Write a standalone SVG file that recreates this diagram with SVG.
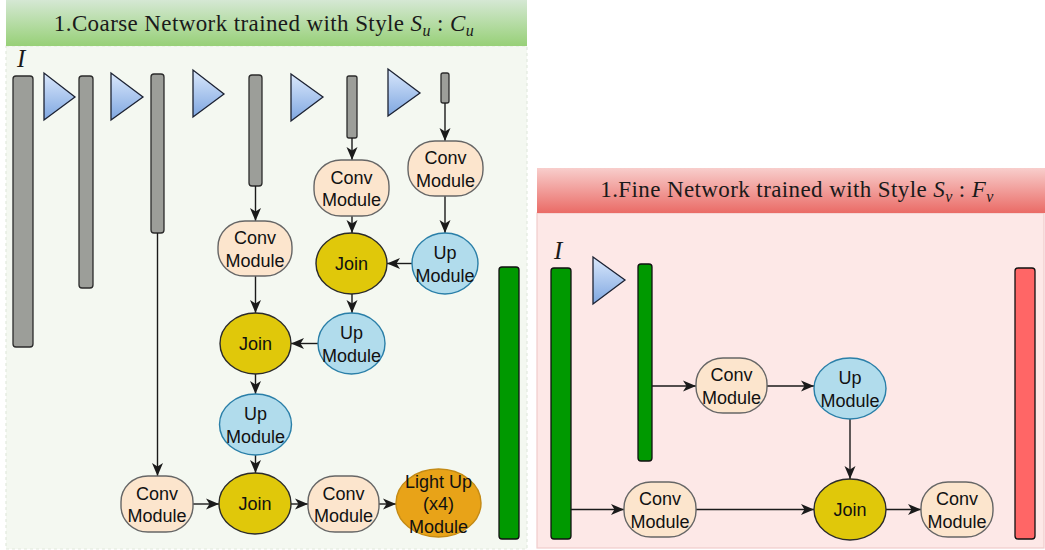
<svg xmlns="http://www.w3.org/2000/svg" width="1045" height="550" viewBox="0 0 1045 550">
<style>
.title{font-family:"Liberation Serif","Times New Roman",serif;font-size:23px;fill:#1a1a1a;letter-spacing:0.4px;text-anchor:middle}
.lbl{font-family:"Liberation Serif","Times New Roman",serif;font-size:25px;font-style:italic;fill:#1a1a1a}
.t{font-family:"Liberation Sans",Arial,sans-serif;font-size:18px;fill:#111;text-anchor:middle}
.bar{fill:#9c9e99;stroke:#2b2b2b;stroke-width:1.3}
.gbar{fill:#009900;stroke:#111;stroke-width:1.3}
.rbar{fill:#ff6666;stroke:#111;stroke-width:1.3}
.tri{fill:url(#triG);stroke:#1c2233;stroke-width:1.3}
.conv{fill:#fce5cd;stroke:#666;stroke-width:1.4}
.up{fill:#b1dcec;stroke:#2a7fa8;stroke-width:1.4}
.join{fill:#e0c80a;stroke:#2b2b2b;stroke-width:1.4}
.light{fill:#e8a318;stroke:#c48a14;stroke-width:1.4}
.edge{fill:none;stroke:#1a1a1a;stroke-width:1.4;marker-end:url(#arr)}
</style>
<defs>
<linearGradient id="greenBand" x1="0" y1="0" x2="0" y2="1"><stop offset="0" stop-color="#d5e8d4"/><stop offset="1" stop-color="#97d077"/></linearGradient>
<linearGradient id="redBand" x1="0" y1="0" x2="0" y2="1"><stop offset="0" stop-color="#f8cecc"/><stop offset="1" stop-color="#ea6b66"/></linearGradient>
<linearGradient id="triG" x1="0" y1="0" x2="0" y2="1"><stop offset="0" stop-color="#dae8fc"/><stop offset="1" stop-color="#7ea6e0"/></linearGradient>
<marker id="arr" viewBox="0 0 13 12" refX="13" refY="6" markerWidth="13" markerHeight="12" markerUnits="userSpaceOnUse" orient="auto">
<path d="M0,0.5 L13,6 L0,11.5 L3.5,6 Z" fill="#1a1a1a"/>
</marker>
</defs>

<g id="panel-coarse">
<rect x="6" y="46" width="521" height="503" fill="#f4f8f1" stroke="#e2e9de" stroke-width="1.2" stroke-dasharray="3 3"/>
<rect x="6" y="0" width="521" height="46" fill="url(#greenBand)"/>
<text class="title" x="264" y="31">1.Coarse Network trained with Style <tspan font-style="italic">S</tspan><tspan font-style="italic" font-size="16" dy="5">u</tspan><tspan dy="-5"> : </tspan><tspan font-style="italic">C</tspan><tspan font-style="italic" font-size="16" dy="5">u</tspan></text>
<text class="lbl" x="17" y="67">I</text>
</g>

<g id="panel-fine">
<rect x="537" y="213" width="507" height="335" fill="#fde8e7" stroke="#f0cccc" stroke-width="1.2"/>
<rect x="537" y="168" width="508" height="45" fill="url(#redBand)"/>
<text class="title" x="797" y="197">1.Fine Network trained with Style <tspan font-style="italic">S</tspan><tspan font-style="italic" font-size="16" dy="5">v</tspan><tspan dy="-5"> : </tspan><tspan font-style="italic">F</tspan><tspan font-style="italic" font-size="16" dy="5">v</tspan></text>
<text class="lbl" x="554" y="259">I</text>
</g>

<g id="coarse-layers">
<rect id="bar1" class="bar" x="13" y="76" width="20" height="271" rx="3"/>
<polygon id="tri1" class="tri" points="44,73 44,120 75,97"/>
<rect id="bar2" class="bar" x="79" y="76" width="14" height="212" rx="3"/>
<polygon id="tri2" class="tri" points="111,73 111,120 143,97"/>
<rect id="bar3" class="bar" x="151" y="74" width="13" height="159" rx="3"/>
<polygon id="tri3" class="tri" points="193,70 193,117 224,94"/>
<rect id="bar4" class="bar" x="249" y="75" width="13" height="111" rx="3"/>
<polygon id="tri4" class="tri" points="291,74 291,121 323,97"/>
<rect id="bar5" class="bar" x="347" y="76" width="10" height="62" rx="2"/>
<polygon id="tri5" class="tri" points="388,69 388,116 420,93"/>
<rect id="bar6" class="bar" x="441" y="73" width="8" height="30" rx="2"/>
<rect id="out-coarse" class="gbar" x="499" y="267" width="20" height="272" rx="3"/>
</g>

<g id="fine-layers">
<rect id="fbar1" class="gbar" x="551" y="268" width="20" height="271" rx="3"/>
<polygon id="ftri1" class="tri" points="593,257 593,304 625,280"/>
<rect id="fbar2" class="gbar" x="638" y="264" width="14" height="197" rx="3"/>
<rect id="out-fine" class="rbar" x="1015" y="268" width="20" height="271" rx="3"/>
</g>

<g id="connectors">
<path class="edge" d="M445,103 V141"/>
<path class="edge" d="M445,196 V233"/>
<path class="edge" d="M412,263.5 H387"/>
<path class="edge" d="M352,138 V160"/>
<path class="edge" d="M352,216 V233"/>
<path class="edge" d="M352,294 V313"/>
<path class="edge" d="M318,343.5 H291"/>
<path class="edge" d="M255.5,186 V221"/>
<path class="edge" d="M255.5,276 V313"/>
<path class="edge" d="M255.5,374 V394"/>
<path class="edge" d="M255.5,455 V473"/>
<path class="edge" d="M157.5,233 V476"/>
<path class="edge" d="M193,504 H219"/>
<path class="edge" d="M291,504 H308"/>
<path class="edge" d="M379,504 H396"/>
<path class="edge" d="M652,386 H696"/>
<path class="edge" d="M767,386 H814"/>
<path class="edge" d="M850,419 V479"/>
<path class="edge" d="M571,509.5 H624"/>
<path class="edge" d="M696,509.5 H814"/>
<path class="edge" d="M886,509.5 H921"/>
</g>

<g id="conv-r">
<rect class="conv" x="408" y="141" width="75" height="55" rx="27" ry="26"/>
<text class="t" x="445.5" y="164">Conv</text><text class="t" x="445.5" y="186.5">Module</text>
</g>
<g id="up-r">
<ellipse class="up" cx="445" cy="263.5" rx="33" ry="30.5"/>
<text class="t" x="445" y="259">Up</text><text class="t" x="445" y="281.5">Module</text>
</g>
<g id="conv-m">
<rect class="conv" x="314" y="160" width="75" height="56" rx="27" ry="26"/>
<text class="t" x="351.5" y="183.5">Conv</text><text class="t" x="351.5" y="206">Module</text>
</g>
<g id="join-t">
<ellipse class="join" cx="351.5" cy="263.5" rx="35.5" ry="30.5"/>
<text class="t" x="351.5" y="269.5">Join</text>
</g>
<g id="conv-l">
<rect class="conv" x="218" y="221" width="74" height="55" rx="27" ry="26"/>
<text class="t" x="255" y="244">Conv</text><text class="t" x="255" y="266.5">Module</text>
</g>
<g id="join-m">
<ellipse class="join" cx="255.5" cy="343.5" rx="35.5" ry="30.5"/>
<text class="t" x="255.5" y="349.5">Join</text>
</g>
<g id="up-m">
<ellipse class="up" cx="351.5" cy="343.5" rx="33.5" ry="30.5"/>
<text class="t" x="351.5" y="339">Up</text><text class="t" x="351.5" y="361.5">Module</text>
</g>
<g id="up-2">
<ellipse class="up" cx="255.5" cy="424.5" rx="36" ry="30.5"/>
<text class="t" x="255.5" y="420">Up</text><text class="t" x="255.5" y="442.5">Module</text>
</g>
<g id="join-3">
<ellipse class="join" cx="255" cy="503.5" rx="36" ry="30.5"/>
<text class="t" x="255" y="509.5">Join</text>
</g>
<g id="conv-bl">
<rect class="conv" x="121" y="476" width="72" height="56" rx="27" ry="26"/>
<text class="t" x="157" y="499.5">Conv</text><text class="t" x="157" y="522">Module</text>
</g>
<g id="conv-br">
<rect class="conv" x="308" y="476" width="71" height="56" rx="27" ry="26"/>
<text class="t" x="343.5" y="499.5">Conv</text><text class="t" x="343.5" y="522">Module</text>
</g>
<g id="light-up">
<ellipse class="light" cx="438.5" cy="503" rx="42.5" ry="34"/>
<text class="t" x="438.5" y="487.5">Light Up</text><text class="t" x="438.5" y="510">(x4)</text><text class="t" x="438.5" y="532.5">Module</text>
</g>

<g id="conv-ru">
<rect class="conv" x="696" y="358" width="71" height="55" rx="27" ry="26"/>
<text class="t" x="731.5" y="381">Conv</text><text class="t" x="731.5" y="403.5">Module</text>
</g>
<g id="up-ru">
<ellipse class="up" cx="850" cy="388.5" rx="36" ry="30.5"/>
<text class="t" x="850" y="384">Up</text><text class="t" x="850" y="406.5">Module</text>
</g>
<g id="conv-rl">
<rect class="conv" x="624" y="482" width="72" height="55" rx="27" ry="26"/>
<text class="t" x="660" y="505">Conv</text><text class="t" x="660" y="527.5">Module</text>
</g>
<g id="join-r">
<ellipse class="join" cx="850" cy="509.5" rx="36" ry="30.5"/>
<text class="t" x="850" y="515.5">Join</text>
</g>
<g id="conv-rr">
<rect class="conv" x="921" y="482" width="72" height="55" rx="27" ry="26"/>
<text class="t" x="957" y="505">Conv</text><text class="t" x="957" y="527.5">Module</text>
</g>
</svg>
